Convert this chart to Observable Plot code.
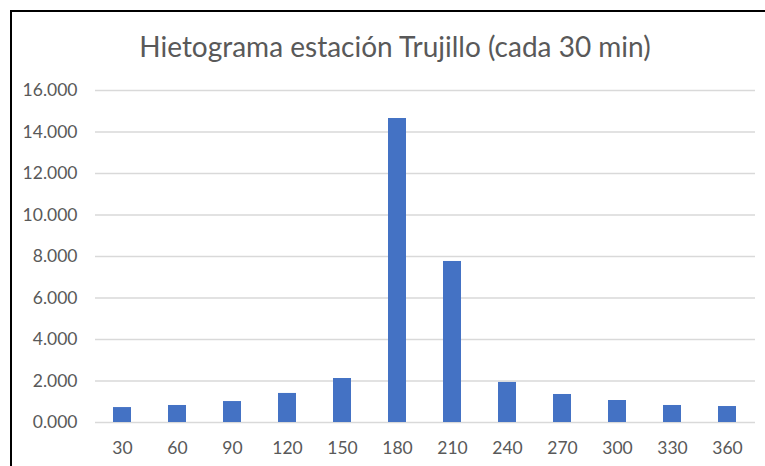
<!DOCTYPE html>
<html>
<head>
<meta charset="utf-8">
<script src="https://cdn.jsdelivr.net/npm/d3@7"></script>
<script src="https://cdn.jsdelivr.net/npm/@observablehq/plot@0.6"></script>
<style>
  html, body { margin: 0; padding: 0; background: #fff; }
  #wrap { position: relative; width: 765px; height: 466px; overflow: hidden; font-family: Lato, "Open Sans", sans-serif; }
  #frame { position: absolute; left: 10px; top: 10px; width: 800px; height: 500px; border: 2px solid #000; box-sizing: border-box; }
  #title { position: absolute; left: 0; width: 790px; top: 29px; text-align: center; font-size: 28px; color: #595959; }
  #chart { position: absolute; left: 0; top: 0; }
</style>
</head>
<body>
<div id="wrap">
  <div id="frame"></div>
  <div id="title">Hietograma estación Trujillo (cada 30 min)</div>
  <div id="chart"></div>
</div>
<script>
const minutes = ["30","60","90","120","150","180","210","240","270","300","330","360"];
const precip = [0.72, 0.82, 1.01, 1.40, 2.12, 14.65, 7.76, 1.93, 1.35, 1.06, 0.82, 0.77];
const yTicks = [0, 2, 4, 6, 8, 10, 12, 14, 16];

const data = minutes.map((m, i) => ({min: m, value: precip[i]}));

const plot = Plot.plot({
  width: 765,
  height: 466,
  marginLeft: 95,
  marginRight: 10,
  marginTop: 90,
  marginBottom: 44,
  style: {fontFamily: "Lato, 'Open Sans', sans-serif", fontSize: "17.5px", color: "#595959", background: "transparent"},
  x: {domain: minutes, paddingInner: 0.67, paddingOuter: 0.335, label: null, tickSize: 0, tickPadding: 19},
  y: {domain: [0, 16], ticks: yTicks, tickFormat: d3.format(".3f"), label: null, tickSize: 0, tickPadding: 18},
  marks: [
    Plot.ruleY(yTicks, {stroke: "#d9d9d9", strokeWidth: 1.5}),
    Plot.barY(data, {x: "min", y: "value", fill: "#4472c4"})
  ]
});
document.getElementById("chart").appendChild(plot);
</script>
</body>
</html>
